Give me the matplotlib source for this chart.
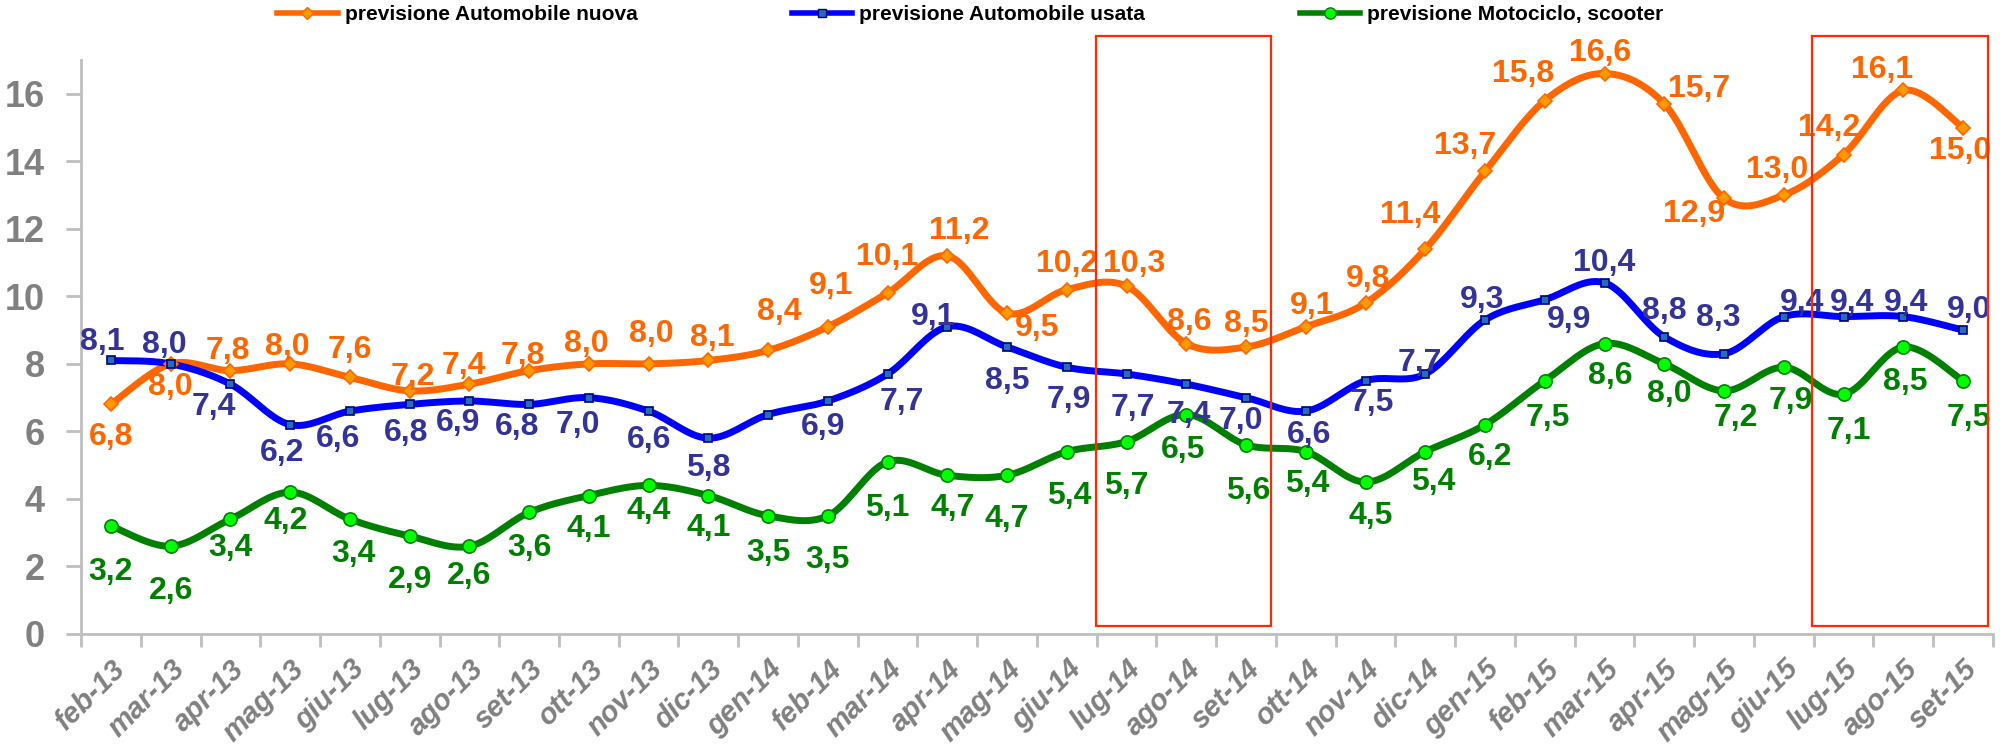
import matplotlib
matplotlib.use("Agg")
import matplotlib.pyplot as plt
from matplotlib.lines import Line2D
from matplotlib.patches import Rectangle
import numpy as np

plt.rcParams['font.family'] = ['Liberation Sans', 'DejaVu Sans']

mesi = ['feb-13', 'mar-13', 'apr-13', 'mag-13', 'giu-13', 'lug-13', 'ago-13', 'set-13',
        'ott-13', 'nov-13', 'dic-13', 'gen-14', 'feb-14', 'mar-14', 'apr-14', 'mag-14',
        'giu-14', 'lug-14', 'ago-14', 'set-14', 'ott-14', 'nov-14', 'dic-14', 'gen-15',
        'feb-15', 'mar-15', 'apr-15', 'mag-15', 'giu-15', 'lug-15', 'ago-15', 'set-15']

auto_nuova = [6.8, 8.0, 7.8, 8.0, 7.6, 7.2, 7.4, 7.8, 8.0, 8.0, 8.1, 8.4, 9.1, 10.1, 11.2, 9.5,
              10.2, 10.3, 8.6, 8.5, 9.1, 9.8, 11.4, 13.7, 15.8, 16.6, 15.7, 12.9, 13.0, 14.2, 16.1, 15.0]
auto_usata = [8.1, 8.0, 7.4, 6.2, 6.6, 6.8, 6.9, 6.8, 7.0, 6.6, 5.8, 6.5, 6.9, 7.7, 9.1, 8.5,
              7.9, 7.7, 7.4, 7.0, 6.6, 7.5, 7.7, 9.3, 9.9, 10.4, 8.8, 8.3, 9.4, 9.4, 9.4, 9.0]
moto = [3.2, 2.6, 3.4, 4.2, 3.4, 2.9, 2.6, 3.6, 4.1, 4.4, 4.1, 3.5, 3.5, 5.1, 4.7, 4.7,
        5.4, 5.7, 6.5, 5.6, 5.4, 4.5, 5.4, 6.2, 7.5, 8.6, 8.0, 7.2, 7.9, 7.1, 8.5, 7.5]

# riquadri evidenziati (indici dei mesi)
riquadri = [(17, 19), (29, 31)]

# spostamento etichette (dx in categorie, dy in unita' dell'asse y)
nuova_dx = [0, 0, -0.05, -0.05, 0, 0.05, -0.1, -0.1, -0.05, 0.05, 0.07, 0.19, 0.05, 0.0, 0.2, 0.5,
            0.0, 0.12, 0.05, 0.0, 0.1, 0.05, -0.25, -0.34, -0.36, -0.08, 0.59, -0.5, -0.11, -0.25, -0.36, -0.05]
nuova_dy = [-0.97, -0.69, 0.59, 0.49, 0.8, 0.42, 0.54, 0.44, 0.6, 0.88, 0.67, 1.13, 1.2, 1.06, 0.75, -0.44,
            0.76, 0.65, 0.64, 0.67, 0.6, 0.7, 1.0, 0.74, 0.8, 0.62, 0.43, -0.45, 0.74, 0.8, 0.61, -0.69]
usata_dx = [-0.15, -0.1, -0.27, -0.13, -0.19, -0.06, -0.19, -0.2, -0.19, 0, 0, 0, -0.08, 0.23, -0.24, 0,
            0.04, 0.11, 0.04, -0.09, 0.05, 0.1, -0.1, -0.05, 0.4, 0.0, 0.0, -0.1, 0.3, 0.15, 0.05, 0.1]
usata_dy = [0.56, 0.57, -0.67, -0.84, -0.83, -0.85, -0.66, -0.67, -0.82, -0.86, -0.89, None, -0.77, -0.84, 0.3, -1.0,
            -0.96, -1.0, -0.9, -0.7, -0.7, -0.67, 0.32, 0.6, -0.6, 0.6, 0.77, 1.07, 0.4, 0.4, 0.4, 0.6]
moto_dx = [0, 0, 0, -0.08, 0.06, 0, 0, 0, 0, 0, 0, 0, 0, 0, 0.09, 0,
           0.04, 0, -0.06, 0.03, 0.02, 0.08, 0.13, 0.08, 0.05, 0.1, 0.09, 0.19, 0.12, 0.08, 0.04, 0.1]
moto_dy = [-1.36, -1.33, -0.84, -0.84, -1.03, -1.3, -0.87, -1.05, -0.99, -0.77, -0.96, -1.09, -1.3, -1.37, -0.97, -1.3,
           -1.3, -1.33, -1.04, -1.38, -0.97, -1.0, -0.9, -0.95, -1.1, -0.95, -0.9, -0.8, -1.0, -1.1, -1.04, -1.1]


def smooth(x, y, n=20):
    # curva liscia tipo Excel (Bezier con tangenti Catmull-Rom)
    x = np.asarray(x, float)
    y = np.asarray(y, float)
    px = np.concatenate([[x[0]], x, [x[-1]]])
    py = np.concatenate([[y[0]], y, [y[-1]]])
    t = np.linspace(0, 1, n)
    xs, ys = [], []
    for i in range(len(x) - 1):
        p0 = np.array([px[i + 1], py[i + 1]])
        p3 = np.array([px[i + 2], py[i + 2]])
        c1 = p0 + (p3 - np.array([px[i], py[i]])) / 6
        c2 = p3 - (np.array([px[i + 3], py[i + 3]]) - p0) / 6
        b = ((1 - t) ** 3)[:, None] * p0 + (3 * (1 - t) ** 2 * t)[:, None] * c1 \
            + (3 * (1 - t) * t ** 2)[:, None] * c2 + (t ** 3)[:, None] * p3
        xs.extend(b[:, 0])
        ys.extend(b[:, 1])
    return xs, ys


fig = plt.figure(figsize=(20.11, 7.5), dpi=100)
ax = fig.add_axes([0.0403, 0.1547, 0.9507, 0.7653])

x = np.arange(len(mesi))

serie = [
    ('previsione Automobile nuova', auto_nuova, '#FF6600', 'D', '#FF9900', '#FF6600', 7, '#FF6600', nuova_dx, nuova_dy),
    ('previsione Automobile usata', auto_usata, '#0000FF', 's', '#1F6FC0', '#000080', 6, '#333399', usata_dx, usata_dy),
    ('previsione Motociclo, scooter', moto, '#008000', 'o', '#00FF00', '#008000', 9.5, '#008000', moto_dx, moto_dy),
]

handles = []
for nome, vals, col, mk, mfc, mec, ms, lcol, dxs, dys in serie:
    sx, sy = smooth(x, vals)
    ax.plot(sx, sy, color=col, lw=5, solid_capstyle='round', zorder=3)
    ax.plot(x, vals, ls='none', marker=mk, ms=ms, mfc=mfc, mec=mec, mew=1.2, zorder=4)
    for i, v in enumerate(vals):
        if dys[i] is None:
            continue
        ax.text(x[i] + dxs[i], v + dys[i], ('%.1f' % v).replace('.', ','),
                color=lcol, fontsize=23, fontweight='bold', ha='center', va='center', zorder=5)
    handles.append(Line2D([], [], color=col, lw=4, marker=mk, ms=ms * 0.85, mfc=mfc, mec=mec, label=nome))

for a, b in riquadri:
    ax.add_patch(Rectangle((a - 0.52, 0.24), b - a + 0.94, 17.7 - 0.24, fill=False,
                           edgecolor='#FF2A00', lw=1.6, clip_on=False, zorder=6))

ax.set_xlim(-0.5, len(mesi) - 0.5)
ax.set_ylim(0, 17)
ax.set_yticks(range(0, 17, 2))
ax.set_xticks(np.arange(-0.5, len(mesi), 1))
ax.set_xticklabels([])
ax.set_xticks(x, minor=True)
ax.set_xticklabels(mesi, minor=True, rotation=45, ha='right', rotation_mode='anchor',
                   fontsize=21, fontweight='bold', fontstyle='italic', color='#808080')
ax.tick_params(axis='x', which='major', length=9, width=2, color='#BFBFBF', direction='out')
ax.tick_params(axis='x', which='minor', length=0, pad=15)
ax.tick_params(axis='y', length=11, width=2, color='#BFBFBF', labelsize=26, labelcolor='#808080', pad=15)
for lab in ax.get_yticklabels():
    lab.set_fontweight('bold')

for s in ['top', 'right']:
    ax.spines[s].set_visible(False)
for s in ['left', 'bottom']:
    ax.spines[s].set_color('#BFBFBF')
    ax.spines[s].set_linewidth(2)

fig.legend(handles=handles, loc='center', bbox_to_anchor=(0.4825, 0.98), ncol=3, frameon=False,
           prop={'weight': 'bold', 'size': 15}, columnspacing=7.4, handlelength=2.9, handletextpad=0.35)

plt.savefig('out.png', dpi=100)
